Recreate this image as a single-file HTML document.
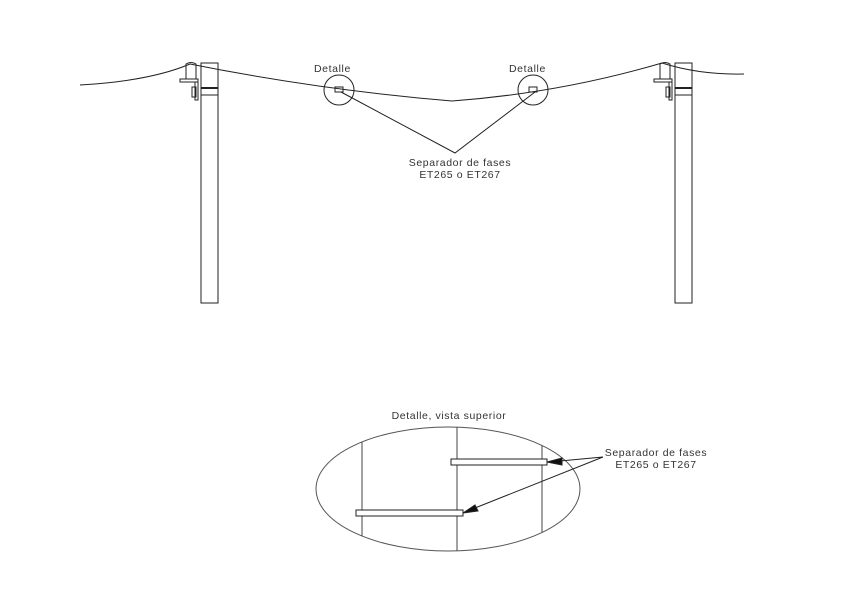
<!DOCTYPE html>
<html><head><style>body{margin:0;background:#fff}svg{display:block}text{font-family:"Liberation Sans",sans-serif;font-size:10.5px;fill:#333;letter-spacing:0.6px}</style></head><body>
<svg width="848" height="600" viewBox="0 0 848 600" fill="none" stroke="#222" stroke-width="1">
<defs>
<g id="pole">
<rect x="201" y="63" width="17" height="240"/>
<line x1="201" y1="88" x2="218" y2="88" stroke-width="2"/>
<line x1="201" y1="95" x2="218" y2="95"/>
<path d="M186 79V64Q191 61 196 64V79"/>
<rect x="180" y="79" width="18" height="3"/>
<path d="M195 82V100H198V82"/>
<rect x="192" y="87" width="4" height="10"/>
</g>
<clipPath id="ec"><ellipse cx="448" cy="489" rx="132" ry="62"/></clipPath>
</defs>
<use href="#pole"/>
<use href="#pole" transform="translate(474,0)"/>
<path d="M80 85Q150 81 190 64"/>
<path d="M190 64Q320 90 452 101Q560 93 662 63"/>
<path d="M662 63Q700 75 744 74"/>
<circle cx="339" cy="90" r="15"/><circle cx="533" cy="90" r="15"/>
<rect x="335" y="87" width="8" height="5"/><rect x="529" y="87" width="8" height="5"/>
<path d="M341 92L455 153L535 92"/>
<text x="314" y="72" stroke="none">Detalle</text>
<text x="509" y="72" stroke="none">Detalle</text>
<text x="460" y="166" stroke="none" text-anchor="middle">Separador de fases</text>
<text x="460" y="178" stroke="none" text-anchor="middle">ET265 o ET267</text>
<text x="449" y="419" stroke="none" text-anchor="middle">Detalle, vista superior</text>
<ellipse cx="448" cy="489" rx="132" ry="62" stroke="#555"/>
<g clip-path="url(#ec)" stroke="#444"><line x1="362" y1="420" x2="362" y2="560"/><line x1="457" y1="420" x2="457" y2="560"/><line x1="542" y1="420" x2="542" y2="560"/></g>
<rect x="451" y="459" width="96" height="6" fill="#fff"/>
<rect x="356" y="510" width="107" height="6" fill="#fff"/>
<path d="M603 457L560 461M603 457L475 508"/>
<path d="M547 462L562 458L562 465Z M463 513L475 505L478 511Z" fill="#111"/>
<text x="656" y="456" stroke="none" text-anchor="middle">Separador de fases</text>
<text x="656" y="468" stroke="none" text-anchor="middle">ET265 o ET267</text>
</svg>
</body></html>
